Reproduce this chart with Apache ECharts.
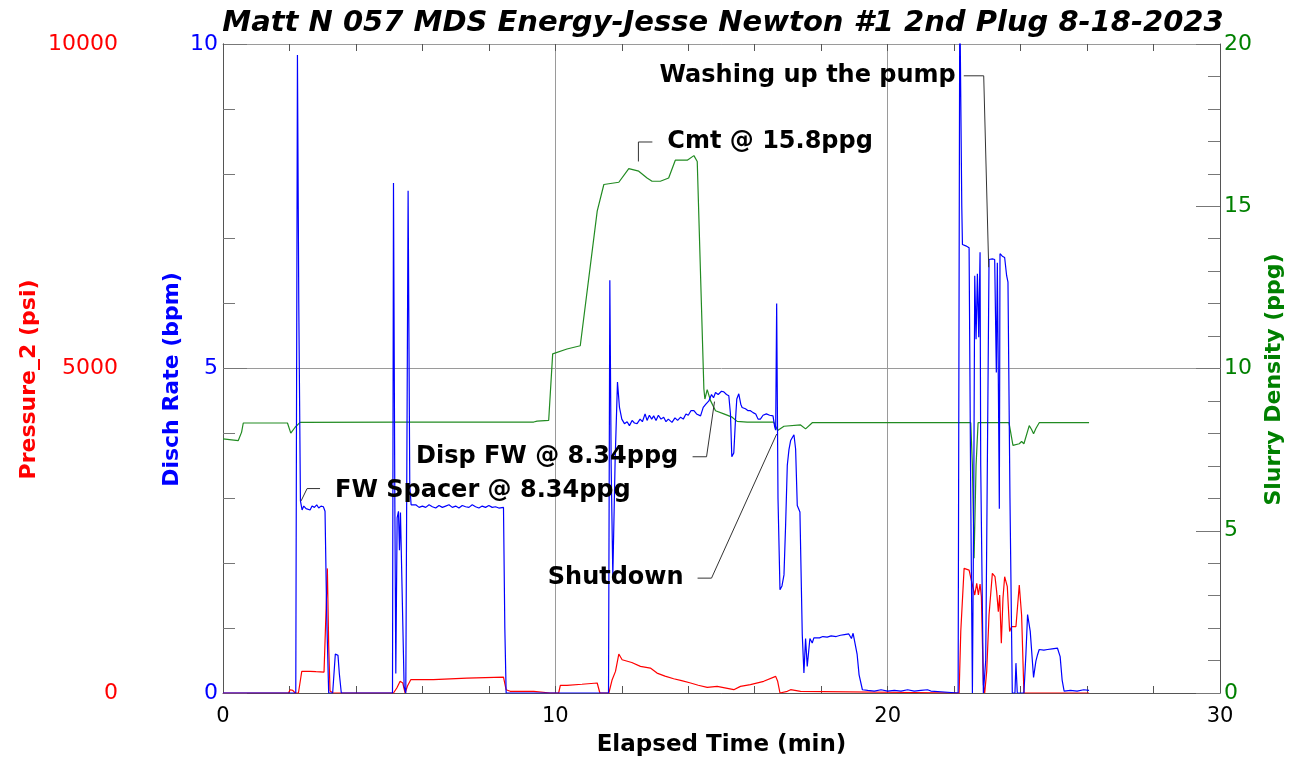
<!DOCTYPE html>
<html>
<head>
<meta charset="utf-8">
<script src="https://cdn.jsdelivr.net/npm/echarts@6.0.0/dist/echarts.min.js"></script>
<style>
html,body{margin:0;padding:0;background:#fff;}
#chart{width:1302px;height:762px;}
</style>
</head>
<body>
<div id="chart"></div>
<script>
// ---- Data (time in minutes) ----
const titleText = 'Matt N 057 MDS Energy-Jesse Newton #1 2nd Plug 8-18-2023';
const xTicks = [0, 10, 20, 30];
const pressureTicks = [0, 5000, 10000];
const rateTicks = [0, 5, 10];
const densityTicks = [0, 5, 10, 15, 20];

// Disch Rate (bpm)
const rateData = [
[0,0],[2.19,0],[2.24,9.83],[2.28,6.0],[2.33,2.96],[2.38,2.82],[2.43,2.88],[2.5,2.84],[2.56,2.86],[2.62,2.82],[2.68,2.88],[2.75,2.86],[2.82,2.9],[2.88,2.85],[2.95,2.88],[3.02,2.87],[3.07,2.8],[3.12,1.2],[3.18,0],[3.3,0],[3.34,0.3],[3.38,0.6],[3.46,0.58],[3.5,0.3],[3.56,0],
[5.1,0],[5.13,7.86],[5.17,3.0],[5.2,0.3],[5.24,2.7],[5.28,2.8],[5.31,2.2],[5.34,2.78],[5.4,2.75],[5.45,0.1],[5.5,0],[5.57,7.74],[5.62,3.2],[5.66,2.9],[5.72,2.87],[5.8,2.9],[5.9,2.86],[6.0,2.88],[6.1,2.86],[6.2,2.9],[6.3,2.87],[6.4,2.85],[6.5,2.89],[6.6,2.86],[6.7,2.88],[6.8,2.9],[6.9,2.86],[7.0,2.88],[7.1,2.85],[7.2,2.89],[7.3,2.87],[7.4,2.86],[7.5,2.9],[7.6,2.87],[7.7,2.85],[7.8,2.88],[7.9,2.86],[8.0,2.89],[8.1,2.86],[8.2,2.87],[8.3,2.85],[8.44,2.86],[8.48,1.0],[8.52,0],
[11.6,0],[11.64,6.36],[11.68,3.5],[11.73,1.8],[11.8,3.6],[11.87,4.79],[11.93,4.4],[12.0,4.22],[12.08,4.15],[12.16,4.18],[12.23,4.12],[12.31,4.2],[12.38,4.16],[12.46,4.15],[12.55,4.22],[12.62,4.18],[12.7,4.3],[12.76,4.2],[12.83,4.28],[12.9,4.22],[12.96,4.27],[13.03,4.2],[13.1,4.28],[13.18,4.22],[13.26,4.25],[13.33,4.18],[13.4,4.22],[13.51,4.17],[13.6,4.24],[13.68,4.2],[13.77,4.25],[13.85,4.22],[13.93,4.3],[14.0,4.28],[14.08,4.35],[14.17,4.35],[14.25,4.3],[14.31,4.33],[14.37,4.27],[14.45,4.4],[14.53,4.45],[14.62,4.5],[14.7,4.6],[14.76,4.55],[14.82,4.63],[14.9,4.6],[15.0,4.65],[15.07,4.64],[15.15,4.6],[15.22,4.58],[15.27,4.3],[15.31,3.64],[15.37,3.7],[15.42,4.2],[15.46,4.53],[15.52,4.61],[15.58,4.45],[15.62,4.4],[15.72,4.38],[15.8,4.35],[15.87,4.35],[15.95,4.32],[16.03,4.3],[16.1,4.22],[16.17,4.22],[16.25,4.28],[16.35,4.3],[16.45,4.28],[16.55,4.27],[16.6,4.1],[16.63,4.05],[16.66,6.0],[16.7,3.0],[16.76,1.59],[16.82,1.65],[16.88,1.82],[16.93,2.6],[16.98,3.51],[17.03,3.75],[17.08,3.89],[17.14,3.92],[17.18,3.98],[17.23,3.76],[17.28,2.89],[17.36,2.79],[17.43,0.9],[17.48,0.31],[17.53,0.84],[17.58,0.41],[17.66,0.84],[17.73,0.77],[17.78,0.85],[17.83,0.87],[17.95,0.85],[18.05,0.87],[18.18,0.86],[18.3,0.88],[18.45,0.87],[18.58,0.89],[18.7,0.9],[18.83,0.91],[18.91,0.84],[18.96,0.92],[19.01,0.95],[19.08,0.6],[19.14,0.28],[19.24,0.05],[19.4,0.04],[19.6,0.03],[19.8,0.05],[20.0,0.03],[20.2,0.04],[20.4,0.03],[20.6,0.05],[20.8,0.03],[21.0,0.04],[21.2,0.05],[21.3,0.03],[21.35,0],
[22.12,0],[22.17,10.8],[22.2,10.8],[22.23,7.5],[22.25,6.91],[22.35,6.89],[22.45,6.86],[22.5,3.0],[22.55,0],[22.59,3.0],[22.62,6.43],[22.66,5.45],[22.7,6.46],[22.74,5.48],[22.78,6.79],[22.8,3.5],[22.88,0],[22.95,0.5],[22.98,2.3],[23.05,6.68],[23.15,6.69],[23.22,6.68],[23.27,4.94],[23.3,6.63],[23.33,4.84],[23.36,2.84],[23.38,6.77],[23.45,6.73],[23.52,6.71],[23.58,6.43],[23.62,6.33],[23.68,3.0],[23.75,0],[23.83,0],[23.86,0.46],[23.9,0],[24.1,0],[24.16,0.6],[24.21,1.21],[24.29,0.95],[24.39,0.24],[24.46,0.49],[24.51,0.59],[24.56,0.67],[24.7,0.66],[24.81,0.67],[24.95,0.68],[25.11,0.69],[25.19,0.56],[25.25,0.2],[25.31,0.03],[25.5,0.04],[25.7,0.03],[25.9,0.05],[26.06,0.04]
];

// Pressure_2 (psi)
const pressureData = [
[0,0],[1.97,0],[2.02,50],[2.1,40],[2.17,0],[2.27,0],[2.33,200],[2.37,333],[2.62,333],[2.8,328],[3.04,323],[3.1,1260],[3.14,1920],[3.18,742],[3.22,30],[3.31,0],
[5.13,0],[5.23,77],[5.33,180],[5.41,154],[5.48,0],[5.55,107],[5.65,205],[6.33,205],[7.34,230],[8.44,246],[8.52,50],[8.64,26],[9.35,26],[9.85,0],
[10.1,0],[10.15,118],[10.35,118],[10.8,135],[11.26,154],[11.34,0],[11.61,0],[11.71,205],[11.81,333],[11.91,600],[12.01,512],[12.3,470],[12.56,410],[12.86,384],[13.06,307],[13.3,260],[13.56,220],[13.8,190],[14.07,154],[14.3,120],[14.57,87],[14.87,102],[15.1,80],[15.37,51],[15.57,102],[15.87,128],[16.27,180],[16.63,256],[16.69,180],[16.76,0],[16.98,26],[17.08,51],[17.38,26],[17.43,0],
[22.15,0],[22.2,952],[22.3,1920],[22.45,1894],[22.55,1664],[22.62,1510],[22.68,1690],[22.73,1510],[22.78,1680],[22.82,1485],[22.88,128],[22.92,0],[22.98,333],[23.05,1203],[23.15,1843],[23.23,1792],[23.28,1562],[23.33,1254],[23.37,1510],[23.42,768],[23.47,1459],[23.52,1792],[23.6,1638],[23.67,947],[23.73,1024],[23.86,1024],[23.96,1664],[24.03,1203],[24.1,0],[26.06,0]
];

// Slurry Density (ppg)
const densityData = [
[0,7.83],[0.46,7.78],[0.56,8.04],[0.61,8.32],[1.94,8.32],[2.04,8.01],[2.17,8.19],[2.32,8.34],[5.33,8.35],[9.35,8.35],[9.45,8.38],[9.8,8.4],[9.92,10.45],[10.35,10.6],[10.75,10.7],[11.26,14.85],[11.46,15.67],[11.91,15.74],[12.21,16.16],[12.51,16.08],[12.76,15.87],[12.91,15.77],[13.16,15.77],[13.41,15.87],[13.61,16.42],[13.97,16.42],[14.17,16.56],[14.27,16.38],[14.47,9.37],[14.5,9.06],[14.57,9.35],[14.67,9.01],[14.82,8.7],[15.07,8.6],[15.32,8.5],[15.47,8.37],[15.77,8.35],[16.57,8.35],[16.69,8.09],[16.88,8.22],[17.38,8.26],[17.53,8.14],[17.73,8.33],[22.5,8.33],[22.55,7.01],[22.6,4.15],[22.66,7.01],[22.72,8.33],[23.65,8.33],[23.77,7.63],[23.96,7.68],[24.03,7.75],[24.1,7.68],[24.26,8.24],[24.33,8.12],[24.39,7.99],[24.46,8.15],[24.56,8.33],[26.06,8.33]
];

// Annotations: anchor & leader points in (time, disch rate) units
const annotations = [
  {text:'Washing up the pump', at:[22.05,9.51], align:'right', leader:[[22.29,9.51],[22.89,9.51],[23.04,6.56]]},
  {text:'Cmt @ 15.8ppg', at:[13.37,8.49], align:'left', leader:[[12.92,8.49],[12.5,8.49],[12.5,8.19]]},
  {text:'Disp FW @ 8.34ppg', at:[13.70,3.64], align:'right', leader:[[14.13,3.64],[14.55,3.64],[14.79,4.49]]},
  {text:'FW Spacer @ 8.34ppg', at:[3.37,3.12], align:'left', leader:[[2.92,3.15],[2.53,3.15],[2.35,2.96]]},
  {text:'Shutdown', at:[13.86,1.77], align:'right', leader:[[14.28,1.77],[14.70,1.77],[16.66,3.99]]}
];

// ---- Styling ----
const FONT = "'DejaVu Sans', 'Liberation Sans', Arial, sans-serif";
const RED = '#ff0000', BLUE = '#0000ff', GREEN = '#008000';
const AXIS_C = '#555', TICK_C = '#777', GRID_C = '#9a9a9a';

function span(t){ return {min:t[0], max:t[t.length-1], interval:t[1]-t[0]}; }

const chart = echarts.init(document.getElementById('chart'), null, {renderer:'canvas'});

function yAxisCfg(ticks, color, name, pos, offset, gap, extra){
  return Object.assign({
    type:'value', position:pos, offset:offset, ...span(ticks),
    axisLine:{show:true, lineStyle:{color:AXIS_C, width:1}},
    axisTick:{show:true, inside:true, length:24, lineStyle:{color:TICK_C}},
    minorTick:{show:true, splitNumber:5, length:12, lineStyle:{color:TICK_C}},
    splitLine:{show:false},
    axisLabel:{color:color, fontSize:22, fontFamily:FONT, margin:5, formatter:(v)=>String(v)},
    name:name, nameLocation:'middle', nameRotate:90, nameGap:gap, nameMoveOverlap:false,
    nameTextStyle:{color:color, fontSize:22, fontWeight:'bold', fontFamily:FONT, padding:[0,22,0,0]}
  }, extra||{});
}

const option = {
  animation:false,
  backgroundColor:'#fff',
  title:{
    text:titleText, left:718, top:4, textAlign:'center',
    textStyle:{fontSize:29, fontWeight:'bold', fontStyle:'italic', color:'#000', fontFamily:FONT}
  },
  grid:{left:223, right:82, top:44, bottom:67, containLabel:false},
  xAxis:[
    {type:'value', position:'bottom', ...span(xTicks),
     axisLine:{show:true, onZero:false, lineStyle:{color:AXIS_C}},
     axisTick:{show:true, inside:true, length:7, lineStyle:{color:AXIS_C}},
     minorTick:{show:true, splitNumber:5, length:7, lineStyle:{color:AXIS_C}},
     splitLine:{show:true, lineStyle:{color:GRID_C, width:1}},
     axisLabel:{color:'#000', fontSize:21, fontFamily:FONT, margin:13},
     name:'Elapsed Time (min)', nameLocation:'middle', nameGap:41,
     nameTextStyle:{color:'#000', fontSize:23, fontWeight:'bold', fontFamily:FONT}},
    {type:'value', position:'top', ...span(xTicks),
     axisLine:{show:true, onZero:false, lineStyle:{color:GRID_C}},
     axisTick:{show:true, inside:true, length:7, lineStyle:{color:AXIS_C}},
     minorTick:{show:true, splitNumber:5, length:7, lineStyle:{color:AXIS_C}},
     splitLine:{show:false}, axisLabel:{show:false}}
  ],
  yAxis:[
    yAxisCfg(pressureTicks, RED, 'Pressure_2 (psi)', 'left', 100, 83),
    yAxisCfg(rateTicks, BLUE, 'Disch Rate (bpm)', 'left', 0, 40,
      {splitLine:{show:true, lineStyle:{color:GRID_C, width:1}}}),
    yAxisCfg(densityTicks, GREEN, 'Slurry Density (ppg)', 'right', 0, 43,
      {axisLabel:{color:GREEN, fontSize:22, fontFamily:FONT, margin:4, formatter:(v)=>String(v)}})
  ],
  series:[
    {name:'Pressure_2', type:'line', xAxisIndex:0, yAxisIndex:0, data:pressureData,
     showSymbol:false, clip:true, lineStyle:{color:RED, width:1.2}, itemStyle:{color:RED}, z:2},
    {name:'Slurry Density', type:'line', xAxisIndex:0, yAxisIndex:2, data:densityData,
     showSymbol:false, clip:true, lineStyle:{color:'#228b22', width:1.2}, itemStyle:{color:GREEN}, z:3},
    {name:'Disch Rate', type:'line', xAxisIndex:0, yAxisIndex:1, data:rateData,
     showSymbol:false, clip:true, lineStyle:{color:BLUE, width:1.2}, itemStyle:{color:BLUE}, z:4}
  ]
};
chart.setOption(option);

// Annotations placed through the chart's own scales
const finder = {xAxisIndex:0, yAxisIndex:1};
const graphics = [];
annotations.forEach(a => {
  const p = chart.convertToPixel(finder, a.at);
  graphics.push({
    type:'text', z:100,
    style:{text:a.text, x:p[0], y:p[1], fill:'#000',
      font:"bold 24px " + FONT,
      textAlign:a.align, align:a.align, textVerticalAlign:'middle', verticalAlign:'middle'}
  });
  const pts = a.leader.map(q => chart.convertToPixel(finder, q));
  graphics.push({
    type:'polyline', z:100, shape:{points:pts},
    style:{stroke:'#333', lineWidth:1, fill:null}
  });
});
chart.setOption({graphic:graphics});
</script>
</body>
</html>
